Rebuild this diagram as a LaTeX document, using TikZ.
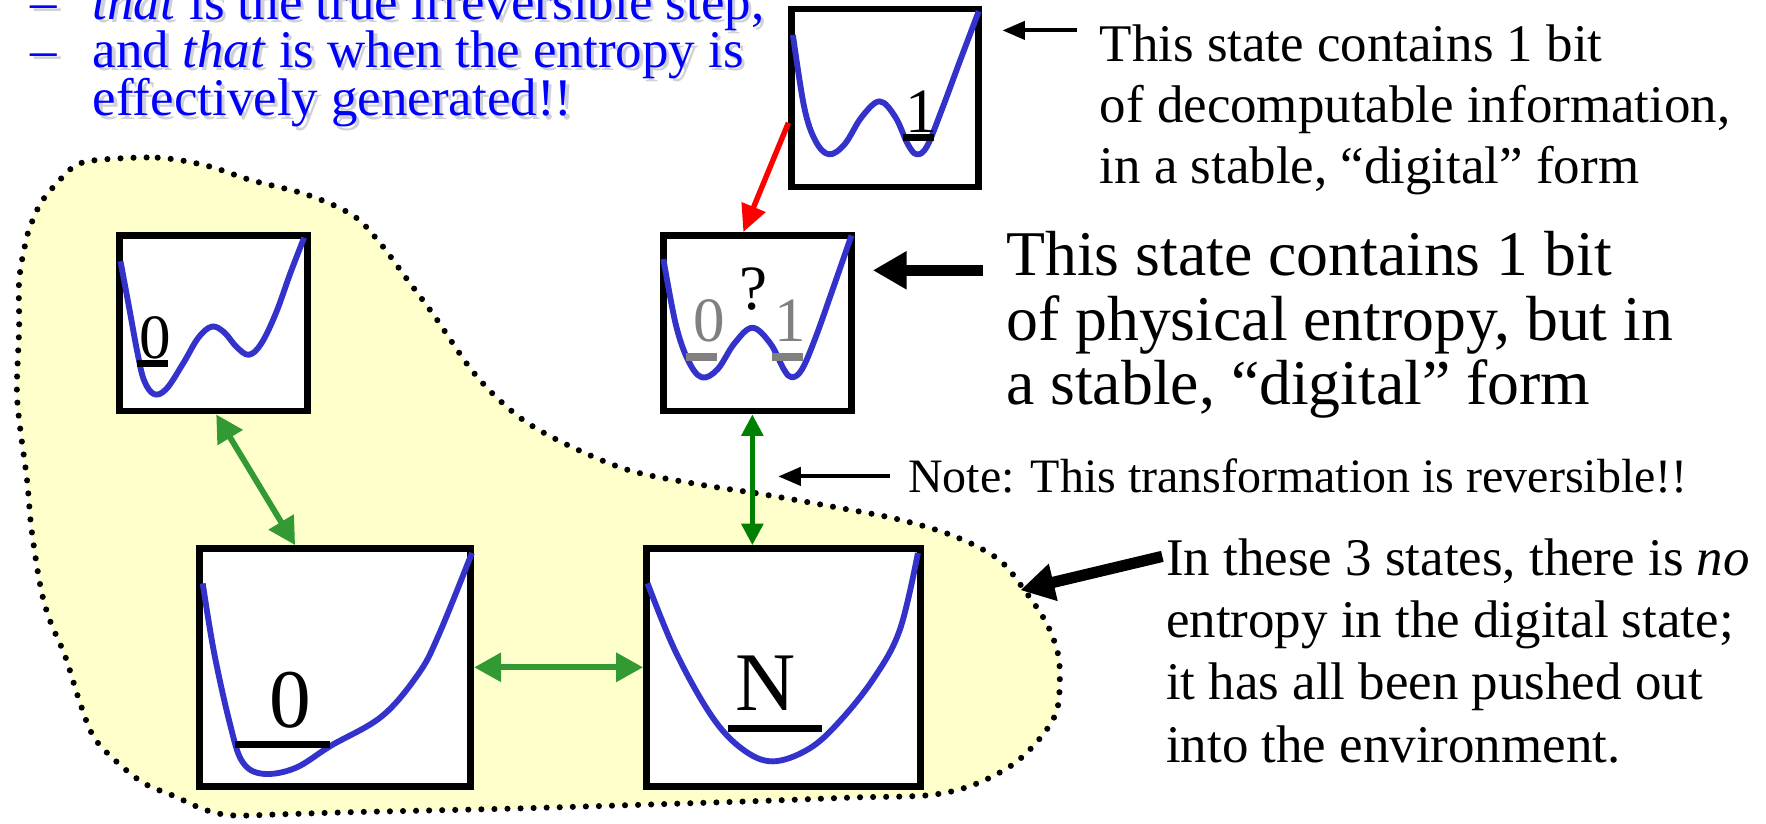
\documentclass[tikz,border=0pt]{standalone}
\usepackage{fontspec}
\setmainfont{Liberation Serif}
\usetikzlibrary{arrows.meta}
\definecolor{curveblue}{HTML}{3333CC}
\definecolor{blobyellow}{HTML}{FFFFCC}
\definecolor{lgreen}{HTML}{339933}
\definecolor{dgreen}{HTML}{008000}
\definecolor{txtblue}{HTML}{0000FF}
\definecolor{levelgray}{HTML}{808080}
\definecolor{shadowgray}{HTML}{D0D0D8}
\tikzset{
  gtip/.tip={Triangle[length=12pt,width=12.5pt]},
  dgtip/.tip={Triangle[length=9.5pt,width=9.5pt]},
  rtip/.tip={Triangle[length=12pt,width=11pt]},
  btip/.tip={Triangle[length=15pt,width=16pt]},
  stip/.tip={Triangle[length=10pt,width=8pt]},
}
\begin{document}
\begin{tikzpicture}[x=0.5pt,y=-0.5pt,
  statebox/.style={draw=black,line width=3pt,fill=white,inner sep=0pt},
  well/.style={draw=curveblue,line width=2.6pt,line join=round},
  level/.style={line width=3.3pt},
  lbl/.style={anchor=base,inner sep=0pt,font=\fontsize{28}{28}\selectfont},
  biglbl/.style={anchor=base,inner sep=0pt,font=\fontsize{37}{37}\selectfont},
  medtxt/.style={anchor=base west,inner sep=0pt,font=\fontsize{23.5}{28}\selectfont},
  bigtxt/.style={anchor=base west,inner sep=0pt,font=\fontsize{28.3}{28}\selectfont},
  notetxt/.style={anchor=base west,inner sep=0pt,font=\fontsize{21.3}{25}\selectfont},
  bluetxt/.style={anchor=base west,inner sep=0pt,font=\fontsize{23.5}{25}\selectfont,text=txtblue},
  shadowtxt/.style={anchor=base west,inner sep=0pt,font=\fontsize{23.5}{25}\selectfont,text=shadowgray},
  greenarrow/.style={draw=lgreen,line width=2.6pt,gtip-gtip,fill=lgreen},
  darkgreenarrow/.style={draw=dgreen,line width=2pt,dgtip-dgtip,fill=dgreen},
  redarrow/.style={draw=red,line width=2.4pt,-rtip,fill=red},
  thickarrow/.style={draw=black,line width=5pt,-btip},
  thinarrow/.style={draw=black,line width=1.8pt,-stip},
]
\useasboundingbox (0,0) rectangle (1568,731);

% region of the three entropy-free states
\path[draw=black,fill=blobyellow,line width=2.7pt,line cap=round,dash pattern=on 0pt off 5.8pt]
  plot[smooth cycle,tension=0.55] coordinates {
  (87,142) (140,140) (183,147) (223,160) (273,173) (313,191) (336,214) (360,246)
  (386,281) (416,325) (440,352) (469,376) (510,398) (560,418) (620,430) (678,439)
  (740,450) (797,461) (847,476) (887,497) (911,526) (929,553) (939,579) (941,603)
  (938,632) (923,656) (899,679) (864,697) (825,706) (760,708) (680,711) (587,714)
  (452,718) (317,721) (250,723) (207,724) (182,719) (155,707) (127,695) (101,674)
  (83,654) (71,624) (58,583) (44,550) (36,521) (28,470) (24,426) (18,381)
  (15,346) (17,290) (17,249) (23,214) (28,198) (37,179) (52,161) (67,147)};

% state boxes
\node[statebox,minimum width=83pt,minimum height=79pt] (T) at (786,87) {};
\node[statebox,minimum width=83.5pt,minimum height=78pt] (Q) at (672.5,287) {};
\node[statebox,minimum width=83.5pt,minimum height=78pt] (L) at (189.5,287) {};
\node[statebox,minimum width=120.5pt,minimum height=105.5pt] (BL) at (297.5,592.5) {};
\node[statebox,minimum width=121.5pt,minimum height=105.5pt] (BN) at (695.5,592.5) {};

% potential curves
\draw[well] plot[smooth,tension=0.6] coordinates {(704,31) (714,95) (724,125) (736,137) (750,128) (765,104) (781,90) (795,104) (806,128) (814,137) (823,130) (836,98) (852,55) (869,10)};
\draw[well] plot[smooth,tension=0.6] coordinates {(589,230) (600,288) (611,320) (623,335) (637,328) (652,305) (668,291) (684,305) (696,328) (703,335) (712,328) (724,300) (740,255) (756,209)};
\draw[well] plot[smooth,tension=0.6] coordinates {(107,232) (115,275) (122,313) (128,338) (137,350) (148,345) (163,322) (176,300) (188,290) (199,295) (210,308) (221,315) (232,305) (245,278) (258,242) (270,211)};
\draw[well] plot[smooth,tension=0.6] coordinates {(180,518) (190,579) (204,642) (215,676) (233,687) (262,682) (294,662) (339,636) (371,599) (389,565) (419,491)};
\draw[well] plot[smooth,tension=0.6] coordinates {(575,518) (600,579) (632,636) (659,665) (686,676) (718,665) (745,641) (776,602) (799,559) (815,491)};

% energy levels and labels
\draw[level] (802,122) -- (829,122);
\node[lbl] (t1) at (818,118) {1};
\draw[level,levelgray] (609,317) -- (637,317);
\draw[level,levelgray] (685,317) -- (713,317);
\node[lbl,text=levelgray] (q0) at (630,303) {0};
\node[lbl,text=levelgray] (q1) at (702,303) {1};
\node[lbl] (qq) at (669,275) {?};
\draw[level] (122,323) -- (149,323);
\node[lbl] (l0) at (137.5,318) {0};
\draw[level] (209,661) -- (293,661);
\node[biglbl] (b0) at (258,646) {0};
\draw[level] (646,647) -- (730,647);
\node[biglbl] (bn) at (680,631) {N};

% transitions
\coordinate (redstart) at (T.west |- 0,109);
\draw[redarrow] (redstart) -- (Q.north -| 660,0);
\draw[greenarrow] (L.south -| 192,0) -- (BL.north -| 262,0);
\draw[greenarrow] (BL.east) -- (BN.west);
\draw[darkgreenarrow] (Q.south -| 668,0) -- (BN.north -| 668,0);

% annotation arrows
\coordinate (a1s) at (956,27);  \coordinate (a1e) at (890,27);
\coordinate (a2s) at (873,240); \coordinate (a2e) at (775,240);
\coordinate (a3s) at (790,423); \coordinate (a3e) at (691,423);
\coordinate (a4s) at (1032,494); \coordinate (a4e) at (906,524);
\draw[thinarrow] (a1s) -- (a1e);
\draw[thickarrow] (a2s) -- (a2e);
\draw[thinarrow] (a3s) -- (a3e);
\draw[thickarrow] (a4s) -- (a4e);

% top-left blue text with soft shadow
\node[shadowtxt] (sd1) at (30,20) {–};
\node[shadowtxt] (st1) at (85,20) {\textit{that} is the true irreversible step,};
\node[shadowtxt] (sd2) at (30,63) {–};
\node[shadowtxt] (st2) at (85,63) {and \textit{that} is when the entropy is};
\node[shadowtxt] (st3) at (85,106) {effectively generated!!};
\node[bluetxt] (d1) at (27,17) {–};
\node[bluetxt] (b1) at (82,17) {\textit{that} is the true irreversible step,};
\node[bluetxt] (d2) at (27,60) {–};
\node[bluetxt] (b2) at (82,60) {and \textit{that} is when the entropy is};
\node[bluetxt] (b3) at (82,103) {effectively generated!!};

% annotations
\node[medtxt] (tr1) at (976,55) {This state contains 1 bit};
\node[medtxt] (tr2) at (976,109) {of decomputable information,};
\node[medtxt] (tr3) at (976,163) {in a stable, “digital” form};
\node[bigtxt] (lg1) at (893,245) {This state contains 1 bit};
\node[bigtxt] (lg2) at (893,302) {of physical entropy, but in};
\node[bigtxt] (lg3) at (893,359) {a stable, “digital” form};
\node[notetxt] (note) at (806,437) {Note: This transformation is reversible!!};
\node[medtxt] (br1) at (1035,511) {In these 3 states, there is \textit{no}};
\node[medtxt] (br2) at (1035,566) {entropy in the digital state;};
\node[medtxt] (br3) at (1035,621) {it has all been pushed out};
\node[medtxt] (br4) at (1035,677) {into the environment.};
\end{tikzpicture}
\end{document}
